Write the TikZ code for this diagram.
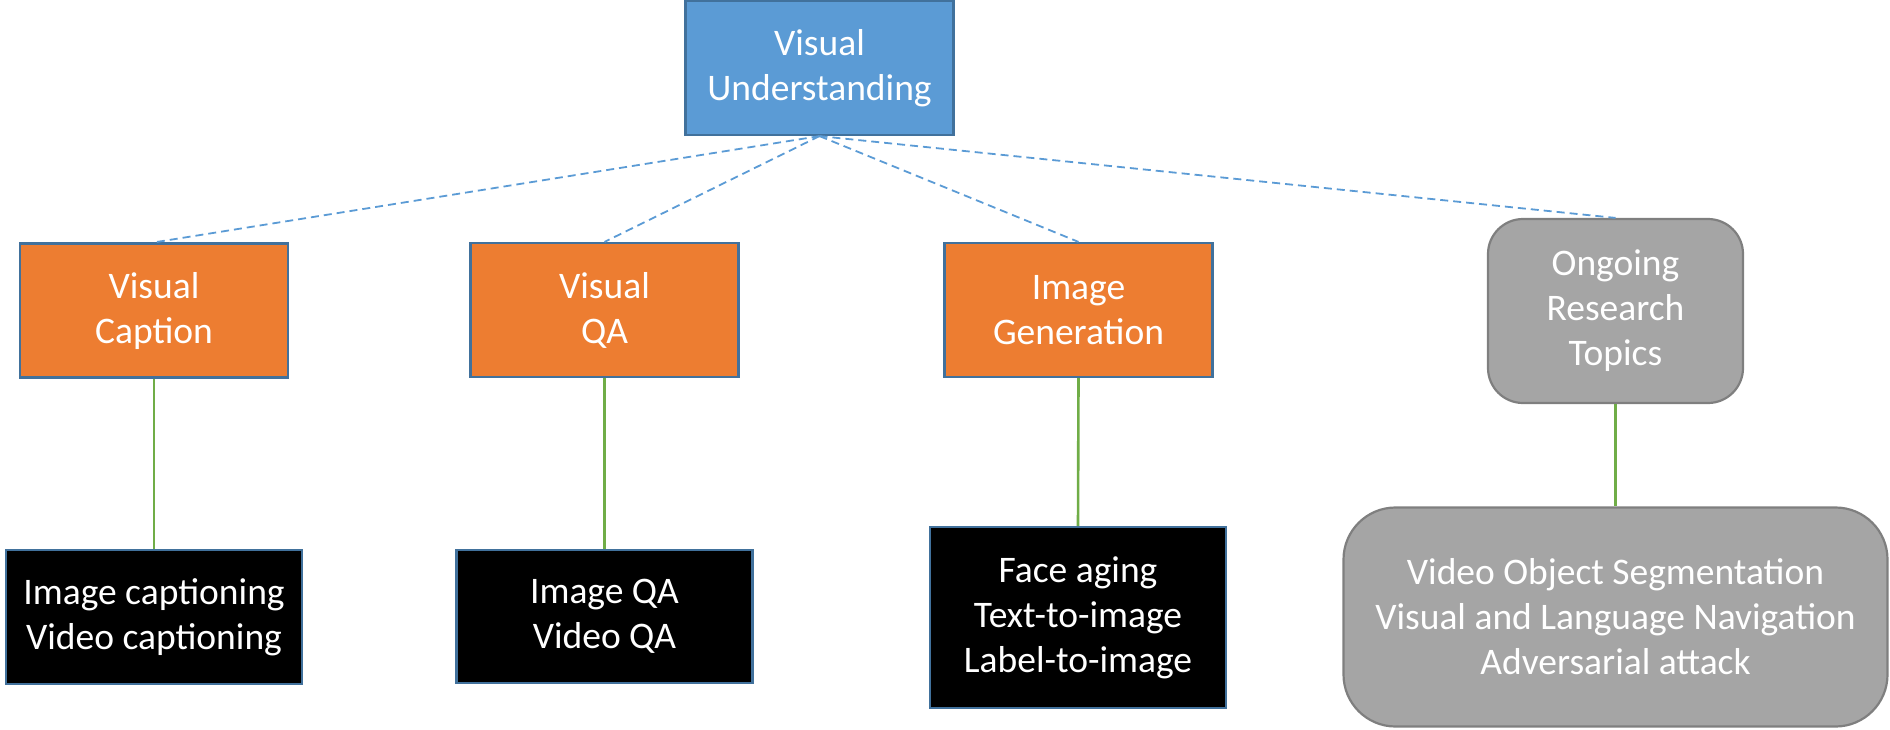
\documentclass[tikz,border=0pt]{standalone}
\usepackage{fontspec}
\setmainfont{Carlito}
\definecolor{topblue}{HTML}{5B9BD5}
\definecolor{edgeblue}{HTML}{41719C}
\definecolor{boxorange}{HTML}{ED7D31}
\definecolor{boxgrey}{HTML}{A5A5A5}
\definecolor{edgegrey}{HTML}{7F7F7F}
\definecolor{linkgreen}{HTML}{70AD47}
\tikzset{
  base/.style={draw=edgeblue, line width=2.2pt, text=white, align=center, inner sep=0pt,
    font=\fontsize{37.5}{45}\selectfont},
  rootbox/.style={base, fill=topblue},
  topicbox/.style={base, fill=boxorange, minimum width=268pt, minimum height=134pt},
  leafbox/.style={base, fill=black, minimum width=296pt},
  greybox/.style={base, fill=boxgrey, draw=edgegrey, rounded corners=35pt},
  dashlink/.style={topblue, dashed, dash pattern=on 8pt off 5pt, line width=1.8pt},
  solidlink/.style={linkgreen, line width=2.6pt},
}
\begin{document}
\begin{tikzpicture}[x=1pt, y=-1pt]
\useasboundingbox (0,0) rectangle (1890,729);
% root
\node[rootbox, minimum width=268pt, minimum height=134pt] (vu) at (819.5,68) {Visual\\Understanding};
% second level
\node[topicbox] (vc) at (154,310.5) {Visual\\Caption};
\node[topicbox] (vqa) at (604.5,310) {Visual\\QA};
\node[topicbox] (ig) at (1078.5,310) {Image\\Generation};
\node[greybox, minimum width=255pt, minimum height=184pt] (or) at (1615.5,311) {Ongoing\\Research\\Topics};
% leaves
\node[leafbox, minimum height=134pt] (ic) at (154,617) {Image captioning\\Video captioning};
\node[leafbox, minimum height=133pt] (iqa) at (604.5,616.5) {Image QA\\Video QA};
\node[leafbox, minimum height=181pt] (fa) at (1078,617.5) {Face aging\\Text-to-image\\Label-to-image};
\node[greybox, rounded corners=52pt, minimum width=544pt, minimum height=219pt] (vs) at (1615.5,617) {Video Object Segmentation\\Visual and Language Navigation\\Adversarial attack};
% links from the root
\foreach \t in {vc,vqa,ig,or}
  \draw[dashlink] (vu.south) -- (\t.north);
% links to the leaves
\draw[solidlink] (vc.south) -- (ic.north);
\draw[solidlink] (vqa.south) -- (iqa.north);
\draw[solidlink] (ig.south) -- (fa.north);
\draw[solidlink] (or.south) -- (vs.north);
\end{tikzpicture}
\end{document}
